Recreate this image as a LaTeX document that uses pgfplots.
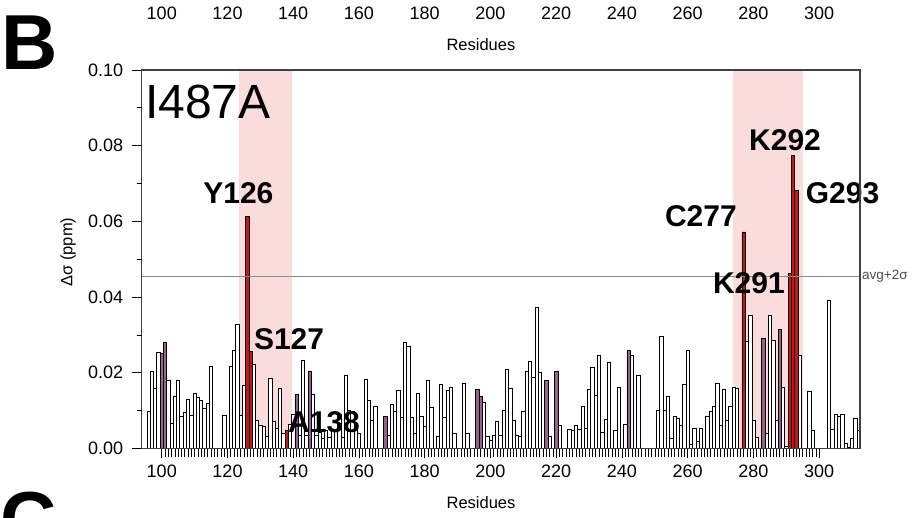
\documentclass[border=0pt]{standalone}
\usepackage{fontspec}
\setmainfont{Liberation Sans}
\usepackage{pgfplots}
\pgfplotsset{compat=1.18}
\usetikzlibrary{calc}

\definecolor{band}{RGB}{251,220,220}
\definecolor{sig}{RGB}{200,22,22}
\definecolor{mauve}{RGB}{150,98,138}

\begin{document}
\begin{tikzpicture}
\begin{axis}[name=ax, scale only axis, width=718.3pt, height=378.5pt,
 xmin=93.9, xmax=312.4, ymin=0, ymax=0.1, clip=false, axis on top,
 xtick={100,120,...,300}, minor x tick num=19,
 ytick={0,0.02,...,0.1}, minor y tick num=0,
 extra y ticks={0.01,0.03,0.05,0.07,0.09}, extra y tick labels={},
 extra y tick style={major tick length=5pt},
 tick align=outside, xtick pos=bottom, ytick pos=left,
 major tick length=10pt, minor tick length=9pt,
 tick style={black, line width=0.7pt},
 axis line style={draw=black!75, line width=1.2pt},
 /pgf/number format/assume math mode=true,
 yticklabel style={/pgf/number format/.cd, fixed, fixed zerofill, precision=2, /tikz/.cd, xshift=-5pt},
 xticklabel style={yshift=-3pt},
 ticklabel style={font=\fontsize{18}{20}\selectfont},
 xlabel={Residues},
 label style={font=\fontsize{16.5}{19}\selectfont},
 ylabel={Δσ (ppm)},
 xlabel style={at={(axis description cs:0.4724,-0.144)}, anchor=center},
 ylabel style={at={(axis description cs:-0.1026,0.519)}, anchor=center},
 every axis plot/.append style={ybar, bar width=1, bar shift=0pt, line width=0.7pt}]

% highlighted regions
\addplot[fill=band, draw=none, ybar=0pt, bar width=16] coordinates {(131.5,0.1)};
\addplot[fill=band, draw=none, ybar=0pt, bar width=21.4] coordinates {(284.4,0.1)};

% ordinary residues
\addplot[draw=black, fill=white] coordinates {
(96,0.0099) (97,0.0203) (98,0.0160) (99,0.0254) (102,0.0179) (103,0.0067) (104,0.0137) (105,0.0181)
(106,0.0086) (107,0.0096) (108,0.0131) (109,0.0088) (110,0.0146) (111,0.0134) (112,0.0128) (113,0.0106)
(114,0.0119) (115,0.0216) (119,0.0088) (121,0.0218) (122,0.0259) (123,0.0329) (124,0.0088) (125,0.0166)
(128,0.0221) (129,0.0074) (130,0.0062) (131,0.0058) (132,0.0033) (133,0.0185) (134,0.0071) (135,0.0053)
(136,0.0159) (137,0.0040) (139,0.0064) (140,0.0090) (142,0.0036) (143,0.0232) (144,0.0036) (146,0.0143)
(147,0.0036) (148,0.0042) (149,0.0027) (150,0.0049) (151,0.0030) (152,0.0050) (154,0.0090) (155,0.0030)
(156,0.0193) (157,0.0101) (158,0.0097) (159,0.0058) (160,0.0040) (162,0.0183) (163,0.0127) (164,0.0075)
(165,0.0111) (169,0.0036) (170,0.0117) (171,0.0097) (172,0.0153) (173,0.0082) (174,0.0280) (175,0.0271)
(176,0.0082) (177,0.0040) (178,0.0146) (179,0.0084) (180,0.0058) (181,0.0179) (182,0.0108) (184,0.0033)
(185,0.0170) (186,0.0082) (187,0.0153) (188,0.0162) (189,0.0040) (192,0.0172) (193,0.0040) (198,0.0123)
(199,0.0031) (200,0.0022) (201,0.0034) (202,0.0071) (203,0.0034) (204,0.0102) (205,0.0209) (206,0.0159)
(207,0.0074) (208,0.0036) (209,0.0031) (210,0.0097) (211,0.0203) (212,0.0231) (213,0.0188) (214,0.0373)
(215,0.0201) (218,0.0033) (221,0.0060) (224,0.0051) (225,0.0047) (226,0.0060) (227,0.0051) (228,0.0112)
(229,0.0053) (230,0.0155) (231,0.0215) (232,0.0140) (233,0.0245) (234,0.0042) (235,0.0078) (236,0.0227)
(238,0.0047) (239,0.0161) (241,0.0065) (243,0.0246) (245,0.0192) (251,0.0102) (252,0.0296) (253,0.0102)
(254,0.0137) (255,0.0027) (256,0.0084) (257,0.0080) (258,0.0060) (259,0.0170) (260,0.0259) (261,0.0012)
(262,0.0053) (263,0.0020) (264,0.0053) (266,0.0086) (267,0.0099) (268,0.0111) (269,0.0172) (270,0.0060)
(271,0.0155) (272,0.0075) (273,0.0112) (274,0.0161) (275,0.0159) (278,0.0283) (279,0.0351) (280,0.0075)
(281,0.0029) (284,0.0040) (285,0.0353) (286,0.0287) (287,0.0075) (289,0.0162) (290,0.0005) (294,0.0245)
(297,0.0150) (298,0.0049) (303,0.0391) (304,0.0051) (305,0.0091) (306,0.0084) (307,0.0089) (308,0.0014)
(309,0.0003) (310,0.0027) (311,0.0080) (312,0.0049)};

% purple residues
\addplot[draw=black, fill=mauve] coordinates {
(100,0.0252) (101,0.0281) (141,0.0143) (145,0.0205) (168,0.0084) (196,0.0155) (197,0.0139)
(217,0.0179) (220,0.0203) (242,0.0258) (283,0.0291) (288,0.0315)};

% significant residues
\addplot[draw=black, fill=sig] coordinates {
(126,0.0613) (127,0.0256) (138,0.0049) (277,0.0572) (291,0.0463) (292,0.0775) (293,0.0683)};

% avg + 2 sigma
\addplot[sharp plot, draw=black!45, line width=0.8pt] coordinates {(93.9,0.0455) (312.4,0.0455)};

\node[anchor=base west, inner sep=0, font=\fontsize{48}{50}\selectfont] at (axis cs:94.9,0.0872) {I487A};
\node[anchor=west, inner sep=0, font=\fontsize{13.5}{15}\selectfont, text=black!70] at (axis cs:313.0,0.0455) {avg+2σ};

\begin{scope}[every node/.style={inner sep=0, font=\fontsize{30}{32}\selectfont\bfseries}]
\node[anchor=base] at (axis cs:123.3,0.0647) {Y126};
\node[anchor=base west] at (axis cs:128.0,0.0261) {S127};
\node[anchor=base west] at (axis cs:138.4,0.0041) {A138};
\node[anchor=base] at (axis cs:264.0,0.0586) {C277};
\node[anchor=base] at (axis cs:278.6,0.0409) {K291};
\node[anchor=base] at (axis cs:289.6,0.0787) {K292};
\node[anchor=base] at (axis cs:307.1,0.0647) {G293};
\end{scope}

% remains of the neighbouring panels
\pgfplotsinvokeforeach{100,120,...,300}{
 \node[anchor=base, inner sep=0, font=\fontsize{18}{20}\selectfont] at (axis cs:#1,0.1134) {#1};}
\node[anchor=base, inner sep=0, font=\fontsize{16.5}{19}\selectfont] at (axis cs:197.1,0.1052) {Residues};
\node[anchor=base west, inner sep=0, font=\fontsize{78}{80}\selectfont\bfseries] at (axis cs:51.2,0.1001) {B};
\node[anchor=base west, inner sep=0, font=\fontsize{78}{80}\selectfont\bfseries] at (axis cs:50.8,-0.0258) {C};
\end{axis}
\pgfresetboundingbox
\path[use as bounding box] ($(ax.south west)+(-141.7pt,-69.5pt)$) rectangle ($(ax.south west)+(776.3pt,448.5pt)$);
\end{tikzpicture}
\end{document}
